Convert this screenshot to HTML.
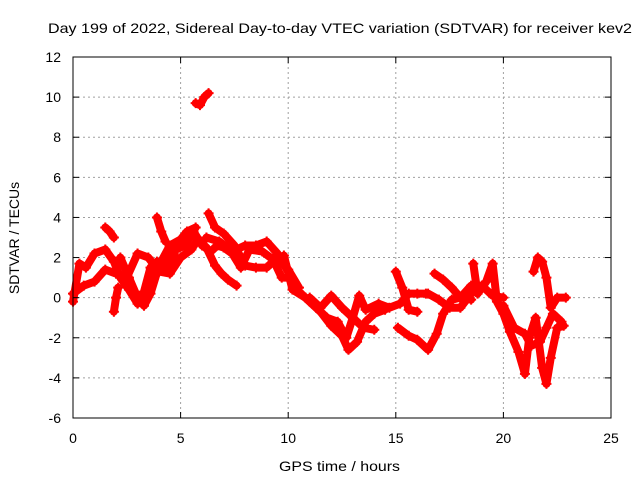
<!DOCTYPE html>
<html><head><meta charset="utf-8"><style>
body{margin:0;background:#fff}
svg text{font-family:"Liberation Sans",sans-serif;font-size:14px;fill:#000}
</style></head><body>
<svg id="chart" width="640" height="480" viewBox="0 0 640 480" xmlns="http://www.w3.org/2000/svg">
<rect width="640" height="480" fill="#fff"/>
<text x="48" y="33" textLength="584" lengthAdjust="spacingAndGlyphs">Day 199 of 2022, Sidereal Day-to-day VTEC variation (SDTVAR) for receiver kev2</text>
<g id="grid"></g>
<g id="marks"></g>
<rect x="73" y="57" width="538" height="361" fill="none" stroke="#000" stroke-width="1"/>
<g id="ticks"></g>
<text x="279" y="471" textLength="121" lengthAdjust="spacingAndGlyphs">GPS time / hours</text>
<text transform="translate(19,238) rotate(-90)" text-anchor="middle">SDTVAR / TECUs</text>
</svg>
<script>
const xTicks=[0,5,10,15,20,25];
const yTicks=[-6,-4,-2,0,2,4,6,8,10,12];
const track1=[[0,-0.2],[0.3,1.7],[0.6,1.5],[1,2.2],[1.5,2.4],[1.9,1.8],[2.2,1],[2.6,0.4],[3.0,-0.3],[3.3,0.3],[3.6,1.5],[3.9,1.8],[4.3,1.4],[4.8,2.4],[5.2,2.6],[5.6,3.3],[6.0,2.6],[6.4,2.3],[6.7,2.6],[7.0,2.5],[7.4,2.2],[7.8,1.5],[8.2,2.4],[8.8,2.3],[9.3,1.9],[9.7,1.0],[10,1.0]];
const track2=[[0,0.2],[0.5,0.6],[1,0.8],[1.5,1.4],[2,1.2],[2.5,1.0],[3.0,2.2],[3.5,2.0],[4.0,1.3],[4.5,1.2],[5,2.0],[5.5,2.4],[5.8,2.9],[6.2,2.5],[6.6,1.6],[6.9,1.2],[7.2,0.9],[7.6,0.6]];
const track3=[[2.2,2.0],[2.6,1.0],[3.0,0],[3.3,-0.4],[3.6,0.2],[4,1.6],[4.5,2.6],[5,2.9],[5.3,3.3],[5.7,3.5]];
const track4=[[6.3,4.2],[6.6,3.5],[7.0,3.2],[7.5,2.6],[8,1.6],[8.5,1.5],[9,1.5],[9.5,2.0],[10,1.4],[10.5,0.5]];
const track5=[[6.2,3.0],[6.8,2.8],[7.4,2.3],[8,2.6],[8.5,2.6],[9,2.8],[9.5,2.2],[10,1.3],[10.5,0.3],[11,-0.2],[11.5,-0.7],[12,-1.4],[12.5,-1.9],[12.8,-2.6],[13.2,-2.2],[13.6,-1.2],[14,-0.8],[14.5,-0.6]];
const track6=[[9.8,2.1],[10.2,0.4],[10.8,0],[11.3,-0.5],[11.8,-1.0],[12.3,-1.2],[12.7,-2.0],[13.0,-1.0],[13.3,0.1],[13.6,-0.6],[14.2,-0.3],[14.7,-0.5],[15.2,-0.3],[15.6,0.2],[16,0.2],[16.4,0.2]];
const track7=[[11,0],[11.5,-0.5],[12,0.1],[12.5,-0.5],[13,-1.0],[13.5,-1.5],[14,-1.6]];
const track8=[[15,1.3],[15.3,0.5],[15.6,-0.6],[16,-0.7]];
const track9=[[15.1,-1.5],[15.6,-1.9],[16,-2.1],[16.5,-2.6],[16.9,-1.8],[17.2,-0.8],[17.6,-0.1],[18,0],[18.5,-0.1]];
const track10=[[16.8,1.2],[17.2,0.9],[17.6,0.5],[18,0],[18.5,0.6],[19,0.6],[19.5,0.1],[20,0]];
const track11=[[16.5,0.2],[17,-0.1],[17.5,-0.5],[18,-0.5],[18.5,0.2],[19,0.5]];
const track12=[[18.6,1.7],[18.8,0.2],[19.2,0.8],[19.5,1.7],[19.7,-0.2],[20,-0.8],[20.3,-1.7],[20.7,-2.7],[21,-3.8],[21.2,-2],[21.5,-1],[21.8,-3.5],[22,-4.3],[22.2,-3],[22.5,-1.5],[22.8,-1.4]];
const track13=[[21.4,1.3],[21.6,2.0],[21.8,1.8],[22,1.0],[22.2,-0.5],[22.5,0],[22.9,0]];
const track14=[[20,-0.4],[20.5,-1.5],[21,-1.8],[21.3,-2.4],[21.7,-2.2],[22,-1.5],[22.3,-0.8],[22.7,-1.2]];
const track15=[[5.7,9.7],[5.9,9.6],[6.1,10.0],[6.3,10.2]];
const track16=[[1.5,3.5],[1.7,3.3],[1.9,3.0]];
const track17=[[3.9,4.0],[4.1,3.3],[4.3,2.8]];
const track18=[[1.9,-0.7],[2.0,0.0],[2.1,0.5]];
const tracks=[track1,track2,track3,track4,track5,track6,track7,track8,track9,track10,track11,track12,track13,track14,track15,track16,track17,track18];
const X0=73,X1=611,Y0=418,Y1=57;
const xs=h=>X0+(h-0)/(25-0)*(X1-X0);
const ys=v=>Y0-(v+6)/(12+6)*(Y0-Y1);
const NS='http://www.w3.org/2000/svg';
const grid=document.getElementById('grid'),ticks=document.getElementById('ticks'),marks=document.getElementById('marks');
function mk(tag,attrs,parent){const e=document.createElementNS(NS,tag);for(const k in attrs)e.setAttribute(k,attrs[k]);parent.appendChild(e);return e;}
xTicks.forEach(t=>{const x=xs(t);
 if(t>0&&t<25){const g=mk('line',{x1:x,x2:x,y1:Y1,y2:Y0,stroke:'#a0a0a0','stroke-dasharray':'2,3'},grid);
 
 }
 mk('line',{x1:x,x2:x,y1:Y0,y2:Y0-6,stroke:'#000'},ticks);mk('line',{x1:x,x2:x,y1:Y1,y2:Y1+6,stroke:'#000'},ticks);
 const l=mk('text',{x:x,y:Y0+25,'text-anchor':'middle'},ticks);l.textContent=t;
 
 });
yTicks.forEach(t=>{const y=ys(t);
 if(t>-6&&t<12){const g=mk('line',{x1:X0,x2:X1,y1:y,y2:y,stroke:'#a0a0a0','stroke-dasharray':'2,3'},grid);
 
 }
 mk('line',{x1:X0,x2:X0+6,y1:y,y2:y,stroke:'#000'},ticks);mk('line',{x1:X1,x2:X1-6,y1:y,y2:y,stroke:'#000'},ticks);
 const l=mk('text',{x:X0-12,y:y+5,'text-anchor':'end'},ticks);l.textContent=t;
 
 });
tracks.forEach((tr,i)=>{
 const p=mk('polyline',{points:tr.map(d=>xs(d[0])+','+ys(d[1])).join(' '),fill:'none',stroke:'#ff0000','stroke-width':8,'stroke-linejoin':'round','stroke-linecap':'round'},marks);
 
 
 tr.forEach(d=>{const x=xs(d[0]),y=ys(d[1]);
  const m=mk('path',{d:`M${x-5},${y}H${x+5}M${x},${y-5}V${y+5}`,stroke:'#ff0000','stroke-width':2},marks);
  
  });
});
</script>
</body></html>
